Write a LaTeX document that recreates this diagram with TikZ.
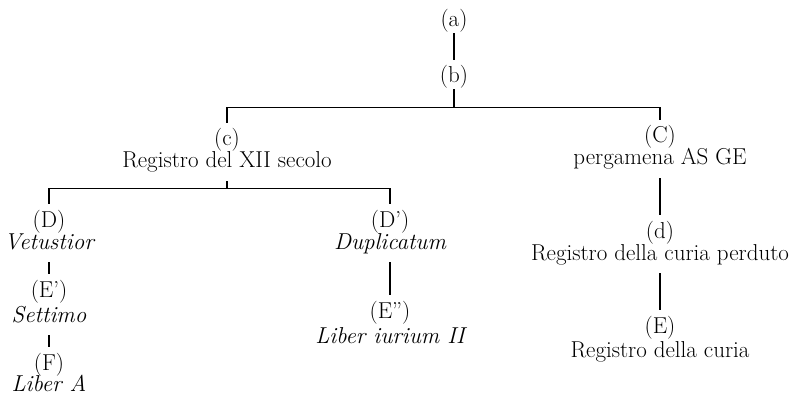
\documentclass[tikz,border=0pt]{standalone}
\usepackage{fontspec}

\tikzset{
  sigla/.style={anchor=base,inner sep=0pt,text height=23pt,text depth=6pt,font=\fontsize{23}{27}\selectfont},
  titolo/.style={anchor=base,inner sep=0pt,text height=14pt,text depth=13pt,font=\fontsize{23}{27}\selectfont},
  ramo/.style={line width=1.1pt}
}

\begin{document}
\begin{tikzpicture}[x=1pt,y=1pt]
\useasboundingbox (0,0) rectangle (791,-395);

% Draw the top of the stemma
\node[sigla] (a) at (454,-27) {(a)};
\node[sigla] (b) at (454,-83) {(b)};

% Draw the left branch
\node[sigla] (c) at (227,-146) {(c)};
\node[titolo] (cn) at (227,-168) {Registro del XII secolo};
\node[sigla] (D) at (49,-227) {(D)};
\node[titolo] (Dn) at (49,-249) {\itshape Vetustior};
\node[sigla] (Ep) at (49,-297) {(E')};
\node[titolo] (Epn) at (49,-322) {\itshape Settimo};
\node[sigla] (F) at (49,-370) {(F)};
\node[titolo] (Fn) at (49,-391) {\itshape Liber A};
\node[sigla] (Dp) at (390,-227) {(D')};
\node[titolo] (Dpn) at (390,-249) {\itshape Duplicatum};
\node[sigla] (Epp) at (390,-318) {(E'')};
\node[titolo] (Eppn) at (390,-343) {\itshape Liber iurium II};

% Draw the right branch
\node[sigla] (C) at (660,-143) {(C)};
\node[titolo] (Cn) at (660,-165) {pergamena AS GE};
\node[sigla] (d) at (660,-238) {(d)};
\node[titolo] (dn) at (660,-260) {Registro della curia perduto};
\node[sigla] (E) at (660,-333) {(E)};
\node[titolo] (En) at (660,-357) {Registro della curia};

% Draw all the lines
\draw[ramo] (a) -- (b);
\draw[ramo] (b.south) -- ++(0,-18) coordinate (fb);
\draw[ramo] (c.north) |- (fb) -| (C.north);
\draw[ramo] (cn.south) -- ++(0,-7) coordinate (fc);
\draw[ramo] (D.north) |- (fc) -| (Dp.north);
\draw[ramo] (Dn) -- (Ep);
\draw[ramo] (Epn) -- (F);
\draw[ramo] (Dpn) -- (Epp);
\draw[ramo] (Cn) -- (d);
\draw[ramo] (dn) -- (E);

\end{tikzpicture}
\end{document}
